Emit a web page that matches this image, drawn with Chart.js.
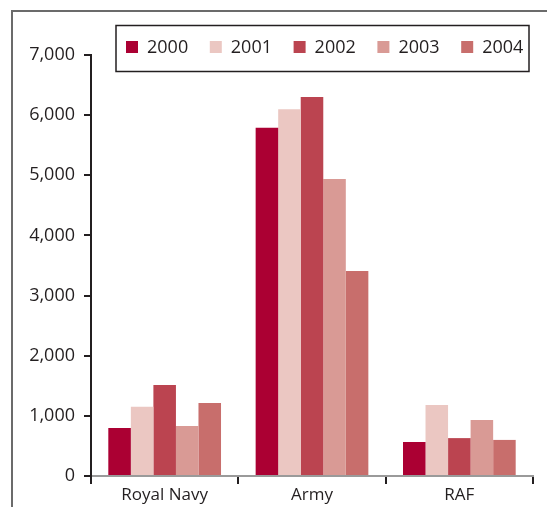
<!DOCTYPE html>
<html>
<head>
<meta charset="utf-8">
<script src="https://cdn.jsdelivr.net/npm/chart.js@4/dist/chart.umd.min.js"></script>
<style>
  html, body { margin: 0; padding: 0; background: #ffffff; }
  #c { display: block; }
</style>
</head>
<body>
<canvas id="c" width="547" height="507"></canvas>
<script>
// ---- data ----
const categories = ['Royal Navy', 'Army', 'RAF'];
const years = ['2000', '2001', '2002', '2003', '2004'];
const values2000 = [800, 5790, 565];
const values2001 = [1150, 6100, 1180];
const values2002 = [1515, 6300, 630];
const values2003 = [830, 4940, 930];
const values2004 = [1215, 3410, 600];
const yTicks = [0, 1000, 2000, 3000, 4000, 5000, 6000, 7000];

const seriesValues = [values2000, values2001, values2002, values2003, values2004];
const colors = ['#ab0033', '#ebc7c2', '#bb4450', '#d99a95', '#c86e6c'];
const FONT = '"Open Sans", "Noto Sans", sans-serif';
const TEXT = '#231f20';

const frame = {
  id: 'frame',
  beforeDraw(chart) {
    const ctx = chart.ctx;
    ctx.save();
    ctx.strokeStyle = '#6b6b6b';
    ctx.lineWidth = 2;
    ctx.strokeRect(12, 11, 700, 700);
    ctx.restore();
  }
};

const boxedLegend = {
  id: 'boxedLegend',
  afterDraw(chart) {
    const ctx = chart.ctx;
    ctx.save();
    ctx.strokeStyle = TEXT;
    ctx.lineWidth = 1.5;
    ctx.strokeRect(116, 25.5, 413, 46);
    ctx.font = '18px ' + FONT;
    ctx.textBaseline = 'middle';
    ctx.textAlign = 'left';
    chart.data.datasets.forEach((ds, i) => {
      const x = 126 + i * 83.8;
      ctx.fillStyle = ds.backgroundColor;
      ctx.fillRect(x, 41, 12, 12);
      ctx.fillStyle = TEXT;
      ctx.fillText(ds.label, x + 21, 47.5);
    });
    ctx.restore();
  }
};

new Chart(document.getElementById('c'), {
  type: 'bar',
  data: {
    labels: categories,
    datasets: years.map((y, i) => ({
      label: y,
      data: seriesValues[i],
      backgroundColor: colors[i],
      borderWidth: 0,
      categoryPercentage: 0.765,
      barPercentage: 1.0
    }))
  },
  options: {
    responsive: false,
    animation: false,
    devicePixelRatio: 1,
    layout: { padding: { top: 55, right: 14, left: 0, bottom: 0 } },
    plugins: {
      legend: { display: false },
      tooltip: { enabled: false },
      title: { display: false }
    },
    scales: {
      x: {
        offset: true,
        grid: {
          offset: true,
          drawOnChartArea: false,
          drawTicks: true,
          tickLength: 8,
          color: TEXT,
          lineWidth: 2
        },
        border: { display: true, color: '#9a9a9a', width: 2 },
        ticks: {
          color: TEXT,
          font: { family: FONT, size: 17 },
          padding: 1,
          maxRotation: 0
        },
        afterFit(scale) { scale.height = 31; }
      },
      y: {
        min: 0,
        max: 7000,
        afterBuildTicks(scale) { scale.ticks = yTicks.map(v => ({ value: v })); },
        grid: {
          drawOnChartArea: false,
          drawTicks: true,
          tickLength: 7,
          color: TEXT,
          lineWidth: 2
        },
        border: { display: true, color: TEXT, width: 2 },
        ticks: {
          color: TEXT,
          font: { family: FONT, size: 18 },
          padding: 9,
          callback: v => Number(v).toLocaleString('en-US')
        },
        afterFit(scale) { scale.width = 91; }
      }
    }
  },
  plugins: [frame, boxedLegend]
});
</script>
</body>
</html>
